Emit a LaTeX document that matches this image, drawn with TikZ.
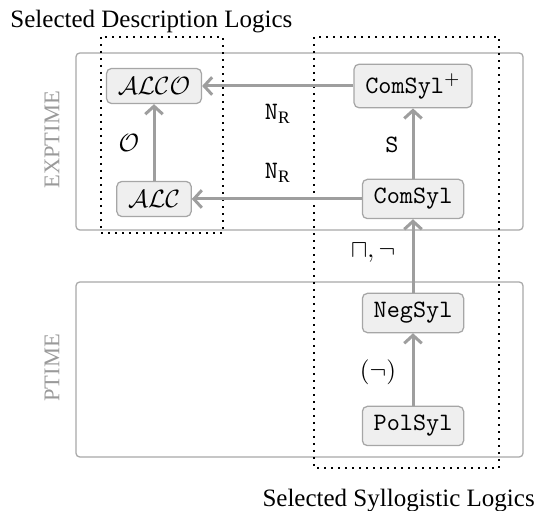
\documentclass[tikz,border=0pt]{standalone}
\usepackage{fontspec}
\setmainfont{Liberation Serif}
\usetikzlibrary{arrows.meta}
\definecolor{boxline}{HTML}{A8A8A8}
\definecolor{nodefill}{HTML}{EFEFEF}
\definecolor{nodeline}{HTML}{A6A6A6}
\definecolor{edgecol}{HTML}{9E9E9E}
\definecolor{classlabel}{HTML}{9A9A9A}
\begin{document}
\begin{tikzpicture}[x=0.4pt,y=-0.4pt,
  logic/.style={draw=nodeline,fill=nodefill,rounded corners=2pt,line width=0.5pt,
    inner xsep=4.5pt,inner ysep=3.6pt,font=\ttfamily},
  reduce/.style={draw=edgecol,line width=1.2pt,-{Straight Barb[length=3.2pt,width=7pt]}},
  classbox/.style={draw=boxline,line width=0.5pt,rounded corners=1.5pt},
  groupbox/.style={draw=black,line width=0.8pt,dotted},
  classname/.style={rotate=90,text=classlabel,font=\small},
  caption/.style={anchor=base west,inner sep=0pt}]
\useasboundingbox (0,0) rectangle (554,511);

% complexity classes
\draw[classbox] (76,53) rectangle (523,230);
\draw[classbox] (76,282) rectangle (523,457);
\node[classname] (exp) at (52,140) {EXPTIME};
\node[classname] (ptime) at (52,368) {PTIME};

% groups of logics
\draw[groupbox] (101,37) rectangle (223,233);
\draw[groupbox] (314,37) rectangle (499,468);
\node[caption] (dl) at (10,28) {Selected Description Logics};
\node[caption] (sl) at (262,507) {Selected Syllogistic Logics};

% logics
\node[logic] (alco) at (154,86) {$\mathcal{ALCO}$};
\node[logic] (alc) at (154,199) {$\mathcal{ALC}$};
\node[logic] (comp) at (413,86) {ComSyl$^+$};
\node[logic] (com) at (413,199) {ComSyl};
\node[logic] (neg) at (413,313) {NegSyl};
\node[logic] (pol) at (413,426) {PolSyl};

% reductions
\draw[reduce] (comp) -- (alco);
\draw[reduce] (com) -- (alc);
\draw[reduce] (alc) -- (alco);
\draw[reduce] (com) -- (comp);
\draw[reduce] (neg) -- (com);
\draw[reduce] (pol) -- (neg);

% edge labels
\node (l1) at (278,114) {$\mathtt{N}_{\mathrm{R}}$};
\node (l2) at (278,173) {$\mathtt{N}_{\mathrm{R}}$};
\node (l3) at (392,145) {\ttfamily S};
\node (l4) at (129,143) {$\mathcal{O}$};
\node (l5) at (373,253) {$\sqcap,\neg$};
\node (l6) at (378,372) {$(\neg)$};
\end{tikzpicture}
\end{document}
